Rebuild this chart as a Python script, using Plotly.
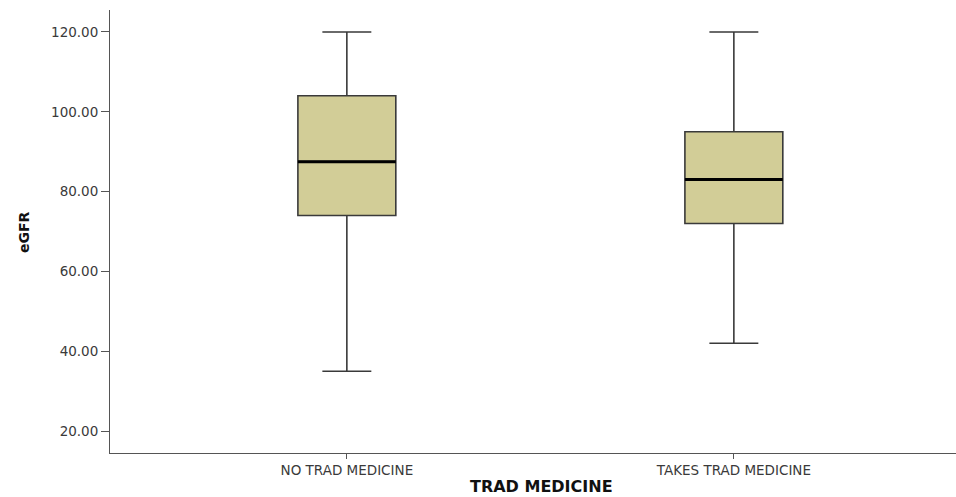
import plotly.graph_objects as go

# eGFR summary by traditional medicine use
categories = ["NO TRAD MEDICINE", "TAKES TRAD MEDICINE"]
lower_whisker = [35.0, 42.0]
q1 = [74.0, 72.0]
median = [87.5, 83.0]
q3 = [104.0, 95.0]
upper_whisker = [120.0, 120.0]
y_ticks = [20, 40, 60, 80, 100, 120]

positions = list(range(len(categories)))
box_width = 0.253
fill = "#D2CD97"
edge = "#3a3a3a"
tick_font = dict(family="DejaVu Sans, sans-serif", size=13.5, color="#3a3a3a")
title_font = "DejaVu Sans, sans-serif"

fig = go.Figure()
fig.add_trace(go.Box(
    x=positions,
    q1=q1, median=median, q3=q3,
    lowerfence=lower_whisker, upperfence=upper_whisker,
    width=box_width,
    whiskerwidth=0.5,
    fillcolor=fill,
    line=dict(color=edge, width=1.6),
    boxpoints=False,
    hoverinfo="skip",
    showlegend=False,
))

# heavier median strokes
for p, m in zip(positions, median):
    fig.add_trace(go.Scatter(
        x=[p - box_width / 2, p + box_width / 2], y=[m, m],
        mode="lines", line=dict(color="black", width=3),
        hoverinfo="skip", showlegend=False,
    ))

fig.update_layout(
    width=956, height=497,
    margin=dict(l=110, r=0, t=10, b=44),
    paper_bgcolor="white", plot_bgcolor="white",
    font=dict(family="DejaVu Sans, sans-serif", color="#333333"),
    xaxis=dict(
        range=[-0.612, 1.574],
        tickvals=positions, ticktext=categories,
        ticks="outside", ticklen=5, tickcolor="#555555",
        tickfont=tick_font,
        showgrid=False, zeroline=False,
        showline=True, linecolor="#555555", linewidth=1,
    ),
    yaxis=dict(
        range=[14.5, 125.5],
        tickvals=y_ticks, ticktext=[f"{v:.2f}" for v in y_ticks],
        ticks="outside", ticklen=8, tickcolor="#555555",
        tickfont=tick_font,
        showgrid=False, zeroline=False,
        showline=True, linecolor="#555555", linewidth=1,
    ),
    annotations=[
        dict(text="<b>TRAD MEDICINE</b>", xref="paper", yref="paper",
             x=(541 - 110) / 846, y=-(486 - 453) / 443,
             xanchor="center", yanchor="middle", showarrow=False,
             font=dict(family=title_font, size=16, color="#111111")),
        dict(text="<b>eGFR</b>", xref="paper", yref="paper",
             x=-(110 - 24) / 846, y=(453 - 232) / 443,
             xanchor="center", yanchor="middle", showarrow=False, textangle=-90,
             font=dict(family=title_font, size=14, color="#111111")),
    ],
)

fig.write_html(
    "out.html",
    post_script="document.body.style.margin='0';document.body.style.overflow='hidden';",
)
